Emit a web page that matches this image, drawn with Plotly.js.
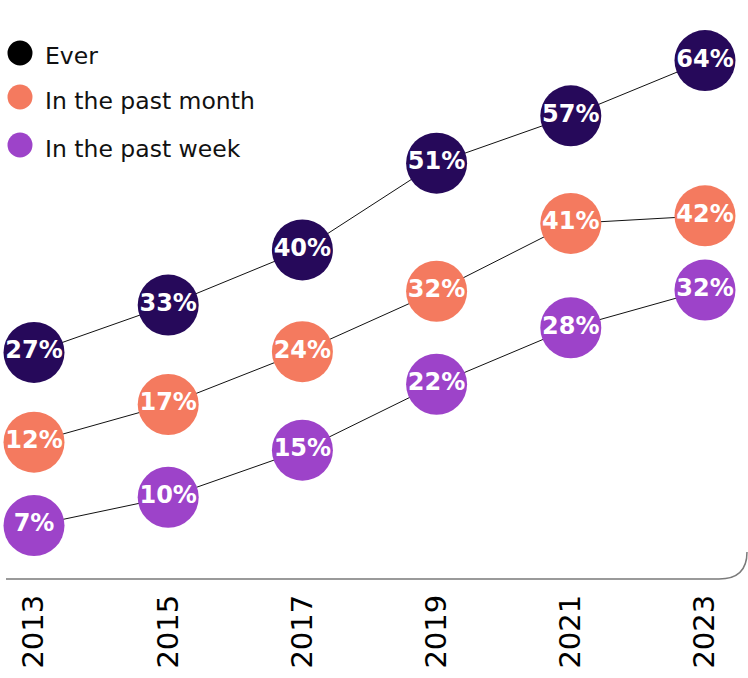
<!DOCTYPE html>
<html>
<head>
<meta charset="utf-8">
<script src="https://cdn.plot.ly/plotly-3.0.1.min.js"></script>
<style>html,body{margin:0;padding:0;background:#fff;}#chart{width:748px;height:678px;}</style>
</head>
<body>
<div id="chart"></div>
<script>
const years = [2013, 2015, 2017, 2019, 2021, 2023];
const ever = [27, 33, 40, 51, 57, 64];
const pastMonth = [12, 17, 24, 32, 41, 42];
const pastWeek = [7, 10, 15, 22, 28, 32];
const seriesNames = ["Ever", "In the past month", "In the past week"];
const markerColors = ["#26095a", "#f47a5f", "#9d43c9"];
const legendColors = ["#000000", "#f47a5f", "#9d43c9"];
const tickLabels = years.map(String);

const W = 748, H = 678, MT = 20, MB = 100;
const PH = H - MT - MB;
const px = v => v / W;
const py = v => (H - MB - v) / PH;

const seriesData = [ever, pastMonth, pastWeek];
const axisIds = ['y', 'y2', 'y3'];
const traces = seriesData.map((vals, i) => ({
  type: 'scatter',
  mode: 'lines+markers+text',
  x: years,
  y: vals,
  yaxis: axisIds[i],
  name: seriesNames[i],
  showlegend: false,
  cliponaxis: false,
  line: {color: '#111111', width: 1},
  marker: {size: 61, color: markerColors[i], line: {width: 0}},
  text: vals.map(v => v + '%'),
  textposition: 'middle center',
  textfont: {family: 'DejaVu Sans', size: 24, color: '#ffffff', weight: 'bold'},
  hoverinfo: 'skip'
}));

const legendY = [53, 97, 145];
const legendTextY = [56, 101, 149];
const shapes = [{
  type: 'path', xref: 'paper', yref: 'paper',
  path: `M ${px(6)},${py(579)} L ${px(719)},${py(579)} Q ${px(747)},${py(579)} ${px(747)},${py(552)}`,
  line: {color: '#7a7a7a', width: 1.5}
}];
const annotations = [];
seriesNames.forEach((n, i) => {
  shapes.push({
    type: 'circle', xref: 'paper', yref: 'paper',
    xsizemode: 'pixel', ysizemode: 'pixel',
    xanchor: px(20), yanchor: py(legendY[i]),
    x0: -12.5, x1: 12.5, y0: -12.5, y1: 12.5,
    fillcolor: legendColors[i], line: {width: 0}
  });
  annotations.push({
    xref: 'paper', yref: 'paper', x: px(43), y: py(legendTextY[i]),
    xanchor: 'left', yanchor: 'middle', showarrow: false,
    text: n, font: {family: 'DejaVu Sans', size: 23.5, color: '#111111'}
  });
});

const hiddenY = {visible: false, showgrid: false, zeroline: false, fixedrange: true};
const layout = {
  width: W, height: H,
  margin: {l: 0, r: 0, t: MT, b: MB, pad: 0},
  paper_bgcolor: '#ffffff', plot_bgcolor: '#ffffff',
  showlegend: false,
  xaxis: {
    range: [2012.4933, 2023.641],
    tickvals: years, ticktext: tickLabels,
    tickangle: -90,
    ticklabelstandoff: 10,
    tickfont: {family: 'DejaVu Sans', size: 29, color: '#000000'},
    showgrid: false, zeroline: false, showline: false, ticks: '',
    fixedrange: true
  },
  yaxis: Object.assign({range: [-1.598, 69.15]}, hiddenY),
  yaxis2: Object.assign({range: [-6.005, 67.96], overlaying: 'y'}, hiddenY),
  yaxis3: Object.assign({range: [1.423, 60.68], overlaying: 'y'}, hiddenY),
  shapes: shapes,
  annotations: annotations
};

Plotly.newPlot('chart', traces, layout, {displayModeBar: false, staticPlot: true});
</script>
</body>
</html>
